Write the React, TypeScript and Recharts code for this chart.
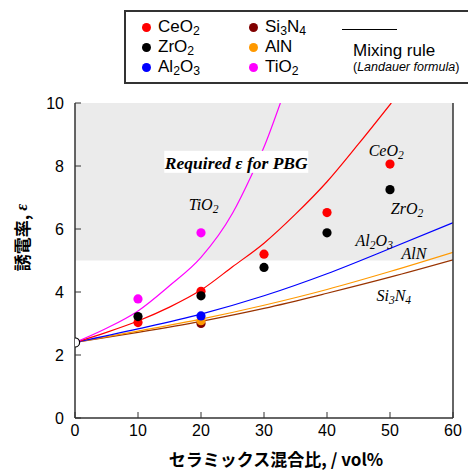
import React from "react";
import { ComposedChart, Line, Scatter, XAxis, YAxis, ReferenceArea, Label } from "recharts";

// axis ticks
const xTicks = [0, 10, 20, 30, 40, 50, 60];
const yTicks = [0, 2, 4, 6, 8, 10];

// measured permittivity (dots)
const matrixPoint = [{ x: 0, y: 2.4 }];
const ceo2Points = [
  { x: 10, y: 3.03 },
  { x: 20, y: 4.02 },
  { x: 30, y: 5.2 },
  { x: 40, y: 6.52 },
  { x: 50, y: 8.06 },
];
const zro2Points = [
  { x: 10, y: 3.22 },
  { x: 20, y: 3.88 },
  { x: 30, y: 4.78 },
  { x: 40, y: 5.88 },
  { x: 50, y: 7.25 },
];
const al2o3Points = [{ x: 20, y: 3.24 }];
const alnPoints = [{ x: 20, y: 3.09 }];
const si3n4Points = [{ x: 20, y: 3.0 }];
const tio2Points = [
  { x: 10, y: 3.78 },
  { x: 20, y: 5.88 },
];

// mixing rule curves (Landauer)
const tio2Curve = [
  { x: 0, y: 2.4 },
  { x: 5, y: 2.85 },
  { x: 10, y: 3.4 },
  { x: 15, y: 4.2 },
  { x: 20, y: 5.1 },
  { x: 25, y: 6.5 },
  { x: 28, y: 7.7 },
  { x: 30, y: 8.6 },
  { x: 32.6, y: 10 },
];
const ceo2Curve = [
  { x: 0, y: 2.4 },
  { x: 5, y: 2.72 },
  { x: 10, y: 3.08 },
  { x: 15, y: 3.52 },
  { x: 20, y: 4.06 },
  { x: 25, y: 4.8 },
  { x: 30, y: 5.55 },
  { x: 35, y: 6.47 },
  { x: 40, y: 7.5 },
  { x: 45, y: 8.7 },
  { x: 50.2, y: 10 },
];
const al2o3Curve = [
  { x: 0, y: 2.4 },
  { x: 10, y: 2.83 },
  { x: 20, y: 3.3 },
  { x: 30, y: 3.88 },
  { x: 40, y: 4.58 },
  { x: 50, y: 5.38 },
  { x: 60, y: 6.2 },
];
const alnCurve = [
  { x: 0, y: 2.4 },
  { x: 10, y: 2.76 },
  { x: 20, y: 3.14 },
  { x: 30, y: 3.58 },
  { x: 40, y: 4.08 },
  { x: 50, y: 4.65 },
  { x: 60, y: 5.26 },
];
const si3n4Curve = [
  { x: 0, y: 2.4 },
  { x: 10, y: 2.72 },
  { x: 20, y: 3.07 },
  { x: 30, y: 3.48 },
  { x: 40, y: 3.96 },
  { x: 50, y: 4.47 },
  { x: 60, y: 5.02 },
];

// in-plot labels
const notes = [
  { x: 49.4, y: 8.5, name: "CeO2" },
  { x: 52.7, y: 6.67, name: "ZrO2" },
  { x: 20.4, y: 6.8, name: "TiO2" },
  { x: 47.5, y: 5.65, name: "Al2O3" },
  { x: 53.8, y: 5.24, name: "AlN" },
  { x: 50.6, y: 3.9, name: "Si3N4" },
];
const pbgNote = [{ x: 25.6, y: 8.1, name: "Required ε for PBG" }];

const SERIF = '"Liberation Serif", "Times New Roman", serif';
const SANS = '"Liberation Sans", Arial, sans-serif';
const CJK = '"Noto Sans CJK JP", "Liberation Sans", sans-serif';

function chemSpans(text: string, size: number) {
  const parts = text.match(/\d+|\D+/g) || [];
  let shifted = false;
  return parts.map((p, i) => {
    if (/\d/.test(p)) {
      shifted = true;
      return (
        <tspan key={i} dy={size * 0.3} fontSize={size * 0.72}>
          {p}
        </tspan>
      );
    }
    const dy = shifted ? -size * 0.3 : 0;
    shifted = false;
    return (
      <tspan key={i} dy={dy}>
        {p}
      </tspan>
    );
  });
}

function chemHtml(text: string) {
  const parts = text.match(/\d+|\D+/g) || [];
  return parts.map((p, i) =>
    /\d/.test(p) ? (
      <sub key={i} style={{ fontSize: "0.72em", verticalAlign: "-0.25em", lineHeight: 0 }}>
        {p}
      </sub>
    ) : (
      <span key={i}>{p}</span>
    )
  );
}

const dot = (color: string, stroke?: string) => (p: any) =>
  <circle cx={p.cx} cy={p.cy} r={4.6} fill={color} stroke={stroke || "none"} strokeWidth={1.2} />;

const renderNote = (p: any) => (
  <text
    x={p.cx}
    y={p.cy}
    textAnchor="middle"
    dominantBaseline="central"
    fontFamily={SERIF}
    fontStyle="italic"
    fontSize={16}
    fill="#000"
  >
    {chemSpans(p.payload.name, 16)}
  </text>
);

const renderPbg = (p: any) => (
  <g>
    <rect x={p.cx - 72} y={p.cy - 12} width={144} height={22} fill="#fff" />
    <text
      x={p.cx}
      y={p.cy}
      textAnchor="middle"
      dominantBaseline="central"
      fontFamily={SERIF}
      fontStyle="italic"
      fontWeight="bold"
      fontSize={17.5}
      fill="#000"
    >
      {p.payload.name}
    </text>
  </g>
);

const legendItems = [
  { name: "CeO2", color: "#ff0000", col: 0, row: 0 },
  { name: "ZrO2", color: "#000000", col: 0, row: 1 },
  { name: "Al2O3", color: "#0000ff", col: 0, row: 2 },
  { name: "Si3N4", color: "#800000", col: 1, row: 0 },
  { name: "AlN", color: "#ff9900", col: 1, row: 1 },
  { name: "TiO2", color: "#ff00ff", col: 1, row: 2 },
];

function LegendBox() {
  const rowY = [15, 35, 55];
  const colX = [21, 128];
  return (
    <div
      style={{
        position: "absolute",
        left: 124,
        top: 10,
        width: 360,
        height: 74,
        border: "2px solid #333",
        boxSizing: "border-box",
        background: "#fff",
        fontFamily: SANS,
        fontSize: 17,
        color: "#000",
      }}
    >
      {legendItems.map((it) => (
        <div
          key={it.name}
          style={{
            position: "absolute",
            left: colX[it.col] - 5,
            top: rowY[it.row] - 9,
            height: 18,
            lineHeight: "18px",
            display: "flex",
            alignItems: "center",
            whiteSpace: "nowrap",
          }}
        >
          <span
            style={{
              display: "inline-block",
              width: 9,
              height: 9,
              borderRadius: "50%",
              background: it.color,
              marginRight: 7,
            }}
          />
          <span>{chemHtml(it.name)}</span>
        </div>
      ))}
      <div style={{ position: "absolute", left: 216, top: 17, width: 55, borderTop: "1px solid #000" }} />
      <div style={{ position: "absolute", left: 227, top: 30, lineHeight: "18px", whiteSpace: "nowrap" }}>Mixing rule</div>
      <div style={{ position: "absolute", left: 227, top: 48, lineHeight: "14px", fontSize: 12.5, whiteSpace: "nowrap" }}>
        (<i>Landauer formula</i>)
      </div>
    </div>
  );
}

export default function App() {
  const tickStyle = { fontSize: 16, fill: "#000", fontFamily: SANS };
  return (
    <div style={{ position: "fixed", left: 0, top: 0, width: 468, height: 471, overflow: "hidden", background: "#fff" }}>
      <ComposedChart width={468} height={471} margin={{ top: 103, right: 0, bottom: 0, left: 0 }}>
        <ReferenceArea x1={0} x2={60} y1={5} y2={10} fill="#ebebeb" fillOpacity={1} stroke="none" />
        <XAxis
          type="number"
          dataKey="x"
          domain={[0, 60]}
          ticks={xTicks}
          height={53}
          tick={tickStyle}
          tickSize={-6}
          tickMargin={13}
          axisLine={{ stroke: "#333", strokeWidth: 1.5 }}
          tickLine={{ stroke: "#333" }}
          allowDataOverflow
        >
          <Label
            content={({ viewBox }: any) => (
              <text
                x={viewBox.x + viewBox.width / 2 + 12}
                y={viewBox.y + 48}
                textAnchor="middle"
                fontFamily={CJK}
                fontWeight="bold"
                fontSize={17}
                fill="#000"
              >
                セラミックス混合比, / vol%
              </text>
            )}
          />
        </XAxis>
        <XAxis
          xAxisId="top"
          orientation="top"
          type="number"
          domain={[0, 60]}
          height={0}
          tick={false}
          tickLine={false}
          axisLine={{ stroke: "#555", strokeWidth: 1.5 }}
        />
        <YAxis
          type="number"
          dataKey="y"
          domain={[0, 10]}
          ticks={yTicks}
          width={75}
          tick={tickStyle}
          tickSize={-6}
          tickMargin={17}
          axisLine={{ stroke: "#333", strokeWidth: 1.5 }}
          tickLine={{ stroke: "#333" }}
          allowDataOverflow
        >
          <Label
            content={({ viewBox }: any) => {
              const cx = viewBox.x + 21;
              const cy = viewBox.y + viewBox.height / 2 - 23;
              return (
                <text
                  x={cx}
                  y={cy}
                  transform={`rotate(-90 ${cx} ${cy})`}
                  textAnchor="middle"
                  dominantBaseline="central"
                  fontFamily={CJK}
                  fontWeight="bold"
                  fontSize={17}
                  fill="#000"
                >
                  誘電率, <tspan fontStyle="italic" fontFamily={SERIF}>ε</tspan>
                </text>
              );
            }}
          />
        </YAxis>
        <YAxis
          yAxisId="right"
          orientation="right"
          type="number"
          domain={[0, 10]}
          ticks={yTicks}
          width={15}
          tick={false}
          tickSize={-6}
          axisLine={{ stroke: "#333", strokeWidth: 1.5 }}
          tickLine={{ stroke: "#333" }}
        />

        <Scatter data={pbgNote} dataKey="y" shape={renderPbg} isAnimationActive={false} />

        <Line data={si3n4Curve} dataKey="y" type="monotone" stroke="#993300" strokeWidth={1.2} dot={false} isAnimationActive={false} />
        <Line data={alnCurve} dataKey="y" type="monotone" stroke="#ff9900" strokeWidth={1.2} dot={false} isAnimationActive={false} />
        <Line data={al2o3Curve} dataKey="y" type="monotone" stroke="#0000ff" strokeWidth={1.2} dot={false} isAnimationActive={false} />
        <Line data={ceo2Curve} dataKey="y" type="monotone" stroke="#ff0000" strokeWidth={1.2} dot={false} isAnimationActive={false} />
        <Line data={tio2Curve} dataKey="y" type="monotone" stroke="#ff00ff" strokeWidth={1.2} dot={false} isAnimationActive={false} />

        <Scatter data={si3n4Points} dataKey="y" shape={dot("#800000")} isAnimationActive={false} />
        <Scatter data={alnPoints} dataKey="y" shape={dot("#ff9900")} isAnimationActive={false} />
        <Scatter data={al2o3Points} dataKey="y" shape={dot("#0000ff")} isAnimationActive={false} />
        <Scatter data={ceo2Points} dataKey="y" shape={dot("#ff0000")} isAnimationActive={false} />
        <Scatter data={zro2Points} dataKey="y" shape={dot("#000000")} isAnimationActive={false} />
        <Scatter data={tio2Points} dataKey="y" shape={dot("#ff00ff")} isAnimationActive={false} />
        <Scatter data={matrixPoint} dataKey="y" shape={dot("#ffffff", "#000")} isAnimationActive={false} />

        <Scatter data={notes} dataKey="y" shape={renderNote} isAnimationActive={false} />
      </ComposedChart>
      <LegendBox />
    </div>
  );
}
